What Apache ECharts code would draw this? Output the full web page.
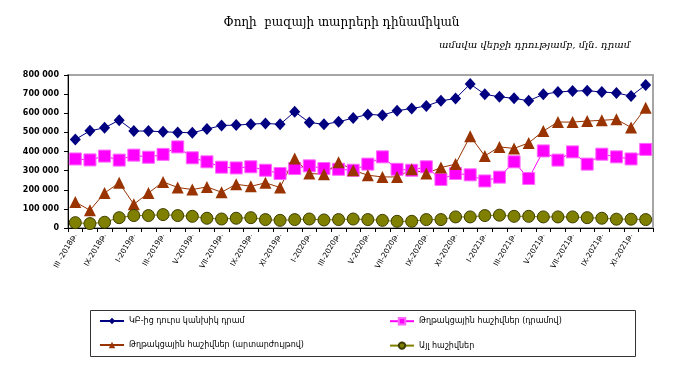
<!DOCTYPE html>
<html><head><meta charset="utf-8">
<script src="https://cdn.jsdelivr.net/npm/echarts@6/dist/echarts.min.js"></script>
<style>html,body{margin:0;padding:0;background:#fff}#c{width:683px;height:371px}</style>
</head><body><div id="c"></div>
<script>
const categories = [
  "III -2018թ.","VI-2018թ.","IX-2018թ.","XII-2018թ.",
  "I-2019թ.","II-2019թ.","III-2019թ.","IV-2019թ.","V-2019թ.","VI-2019թ.","VII-2019թ.","VIII-2019թ.","IX-2019թ.","X-2019թ.","XI-2019թ.","XII-2019թ.",
  "I-2020թ.","II-2020թ.","III-2020թ.","IV-2020թ.","V-2020թ.","VI-2020թ.","VII-2020թ.","VIII-2020թ.","IX-2020թ.","X-2020թ.","XI-2020թ.","XII-2020թ.",
  "I-2021թ.","II-2021թ.","III-2021թ.","IV-2021թ.","V-2021թ.","VI-2021թ.","VII-2021թ.","VIII-2021թ.","IX-2021թ.","X-2021թ.","XI-2021թ.","XII-2021թ."
];
const seriesNames = ["ԿԲ-ից դուրս կանխիկ դրամ","Թղթակցային հաշիվներ (դրամով)","Թղթակցային հաշիվներ (արտարժույթով)","Այլ հաշիվներ"];
const cashOutside = [463000,508000,524000,564000,507000,507000,503000,500000,498000,517000,536000,538000,543000,547000,542000,608000,552000,542000,555000,575000,594000,590000,613000,625000,638000,665000,677000,753000,699000,686000,678000,665000,699000,711000,716000,718000,711000,706000,690000,748000];
const corrAMD = [361000,356000,376000,355000,381000,370000,385000,424000,367000,346000,318000,314000,320000,302000,285000,311000,325000,311000,307000,302000,334000,372000,307000,302000,320000,254000,285000,278000,246000,266000,346000,259000,403000,355000,398000,334000,386000,372000,361000,411000];
const corrFX = [136000,93000,183000,236000,124000,183000,241000,212000,201000,215000,187000,229000,218000,236000,212000,364000,285000,281000,344000,302000,276000,267000,267000,307000,285000,316000,334000,480000,377000,424000,416000,445000,507000,554000,554000,559000,563000,568000,526000,629000];
const otherAcc = [28000,23000,30000,54000,65000,65000,70000,65000,61000,51000,47000,51000,54000,44000,40000,44000,47000,42000,44000,47000,44000,40000,35000,35000,44000,44000,58000,58000,65000,67000,61000,61000,58000,58000,58000,54000,51000,46000,46000,44000];
const yTicks = {min:0, max:800000, interval:100000};

const chart = echarts.init(document.getElementById('c'), null, {renderer:'canvas'});
const fmt = v => { const s = String(v); return s.length > 3 ? s.slice(0, s.length-3) + ' ' + s.slice(-3) : s; };
const legendText = {fontSize:8, fontFamily:'DejaVu Sans', color:'#000'};
chart.setOption({
  animation:false,
  backgroundColor:'#fff',
  title:[
    {text:'Փողի  բազայի տարրերի դինամիկան', left:'center', top:12, textStyle:{fontFamily:'DejaVu Serif', fontWeight:'normal', fontSize:12, color:'#000'}},
    {text:'ամսվա վերջի դրությամբ, մլն. դրամ', left:434, top:35, textStyle:{fontFamily:'DejaVu Serif', fontStyle:'italic', fontWeight:'normal', fontSize:10, color:'#000'}}
  ],
  graphic:[{type:'rect', shape:{x:90.5, y:310.5, width:545, height:46}, style:{fill:'none', stroke:'#333', lineWidth:1}, z:-1}],
  legend:[
    {data:[seriesNames[0], seriesNames[2]], orient:'vertical', left:99, top:317, itemGap:16, itemWidth:24, itemHeight:8, padding:0, textStyle:legendText},
    {data:[seriesNames[1], seriesNames[3]], orient:'vertical', left:389, top:317, itemGap:16, itemWidth:24, itemHeight:8, padding:0, textStyle:legendText}
  ],
  grid:{left:68, right:30, top:75, bottom:143, show:true, borderColor:'#a6a6a6', borderWidth:2, backgroundColor:'transparent'},
  xAxis:{type:'category', data:categories, boundaryGap:true,
    axisLine:{lineStyle:{color:'#000', width:1}},
    axisTick:{show:true, interval:0, length:4, lineStyle:{color:'#000'}},
    axisLabel:{interval:1, rotate:60, fontSize:7.5, fontFamily:'DejaVu Sans', color:'#000', margin:6},
    splitLine:{show:false}},
  yAxis:{type:'value', min:yTicks.min, max:yTicks.max, interval:yTicks.interval,
    axisLine:{show:true, lineStyle:{color:'#000', width:1}},
    axisTick:{show:true, length:4, lineStyle:{color:'#000'}},
    axisLabel:{formatter:fmt, fontSize:8, fontWeight:'bold', fontFamily:'DejaVu Sans', color:'#000', margin:9},
    splitLine:{show:false}},
  series:[
    {name:seriesNames[0], type:'line', data:cashOutside, symbol:'diamond', symbolSize:[11,12], showAllSymbol:true,
     itemStyle:{color:'#000080'}, lineStyle:{color:'#000080', width:1}},
    {name:seriesNames[1], type:'line', data:corrAMD, symbol:'rect', symbolSize:12, showAllSymbol:true,
     itemStyle:{color:'#FF00FF', borderColor:'#ff66ff', borderWidth:1}, lineStyle:{color:'#FF00FF', width:1}},
    {name:seriesNames[2], type:'line', data:corrFX, symbol:'triangle', symbolSize:[12,12], showAllSymbol:true,
     itemStyle:{color:'#993300'}, lineStyle:{color:'#993300', width:1}},
    {name:seriesNames[3], type:'line', data:otherAcc, symbol:'circle', symbolSize:12, showAllSymbol:true,
     itemStyle:{color:'#808000', borderColor:'#3d3d00', borderWidth:1}, lineStyle:{color:'#808000', width:1}}
  ]
});
</script></body></html>
